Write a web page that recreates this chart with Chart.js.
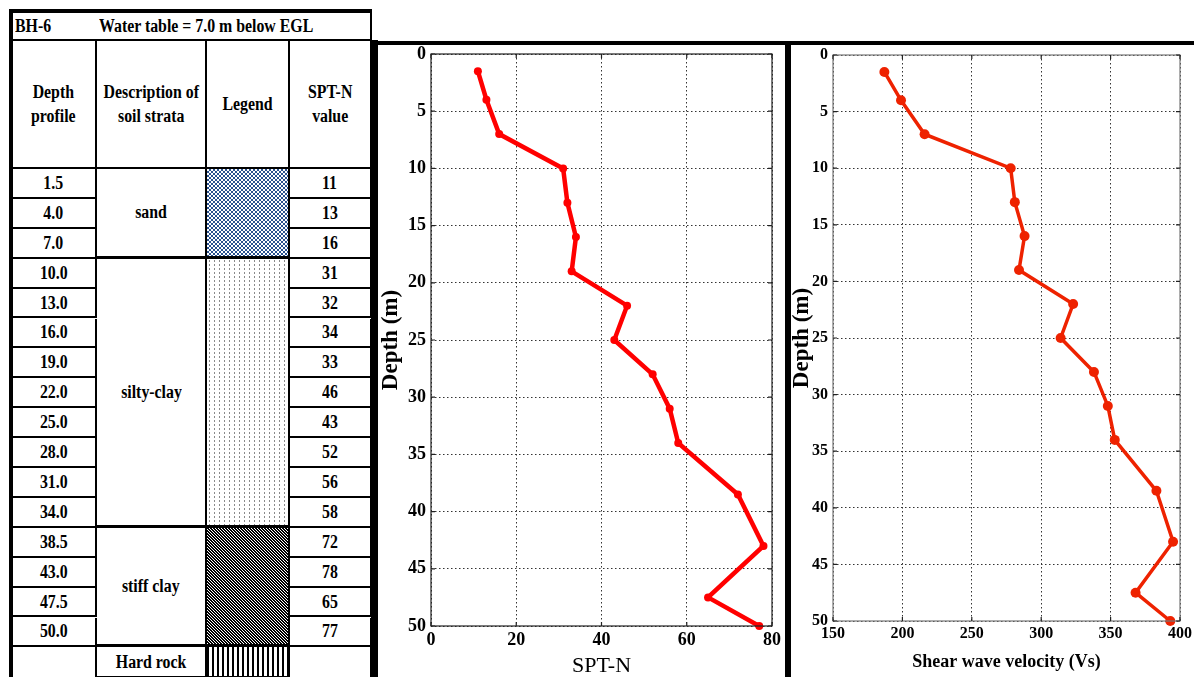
<!DOCTYPE html>
<html lang="en">
<head>
  <meta charset="UTF-8">
  <title>BH-6 borehole log, SPT-N and shear wave velocity</title>
  <script src="https://cdn.jsdelivr.net/npm/chart.js@4"></script>
  <style>
    * { margin: 0; padding: 0; box-sizing: border-box; }
    body { width: 1194px; height: 677px; overflow: hidden; background: #fff; position: relative;
           font-family: 'Liberation Serif', 'Times New Roman', serif; font-weight: bold; color: #000; }
    .cell { position: absolute; border-right: 2px solid #000; border-bottom: 2px solid #000;
            display: flex; align-items: center; justify-content: center; text-align: center; font-size: 18px; line-height: 24px; }
    .cell span { display: inline-block; transform: scaleX(0.88); white-space: nowrap; }
    .bar { position: absolute; background: #000; }
    .sand { background: repeating-conic-gradient(#2a528f 0 25%, #fff 0 50%) 0 0 / 4px 4px; }
    .silt { background-image: radial-gradient(circle, #8a8a8a 0.7px, transparent 0.9px); background-size: 5px 4px; }
    .stiff { background: linear-gradient(45deg, #000 25%, #fff 25%, #fff 50%, #000 50%, #000 75%, #fff 75%) 0 0 / 3px 3px; }
    .rock { background: repeating-linear-gradient(90deg, #000 0 2px, #fff 2px 5px); }
    canvas { position: absolute; }
  </style>
</head>
<body>
  <div id="log"></div>
  <canvas id="sptChart" width="408" height="632" style="left:378px; top:45px;"></canvas>
  <canvas id="vsChart" width="403" height="632" style="left:791px; top:45px;"></canvas>

  <script>
    // borehole BH-6 test depths (m) and readings
    const depths = [1.5, 4.0, 7.0, 10.0, 13.0, 16.0, 19.0, 22.0, 25.0, 28.0, 31.0, 34.0, 38.5, 43.0, 47.5, 50.0];
    const sptN = [11, 13, 16, 31, 32, 34, 33, 46, 43, 52, 56, 58, 72, 78, 65, 77];
    const shearVs = [187, 199, 216, 278, 281, 288, 284, 323, 314, 338, 348, 353, 383, 395, 368, 393];

    // soil strata: name, number of test rows, legend pattern
    const strataNames = ['sand', 'silty-clay', 'stiff clay', 'Hard rock'];
    const strataRows = [3, 9, 4, 1];
    const strataPattern = ['sand', 'silt', 'stiff', 'rock'];

    const depthTicks = [0, 5, 10, 15, 20, 25, 30, 35, 40, 45, 50];

    // ---- left table (log) ----
    const log = document.getElementById('log');
    const colX = [12, 97, 207, 290, 372];
    const rowTop = 169, rowH = 29.9;

    function cell(x, y, w, h, html, cls, extra) {
      const d = document.createElement('div');
      d.className = 'cell' + (cls ? ' ' + cls : '');
      d.style.left = x + 'px'; d.style.top = y + 'px';
      d.style.width = w + 'px'; d.style.height = h + 'px';
      if (extra) Object.assign(d.style, extra);
      if (html) d.innerHTML = '<span>' + html + '</span>';
      log.appendChild(d);
      return d;
    }

    // title row
    const t = cell(colX[0], 9, colX[4] - colX[0], 32, '', '', { borderTop: '4px solid #000' });
    t.innerHTML = '<span style="position:absolute;left:3px;transform-origin:left">BH-6</span>' +
                  '<span style="position:absolute;left:87px;transform-origin:left">Water table = 7.0 m below EGL</span>';

    // column headers
    const heads = ['Depth<br>profile', 'Description of<br>soil strata', 'Legend', 'SPT-N<br>value'];
    heads.forEach((h, i) => cell(colX[i], 41, colX[i + 1] - colX[i], rowTop - 41, h));

    // depth + SPT rows
    depths.forEach((d, i) => {
      const y = rowTop + i * rowH;
      cell(colX[0], y, colX[1] - colX[0], rowH, d.toFixed(1));
      cell(colX[3], y, colX[4] - colX[3], rowH, String(sptN[i]));
    });
    const lastY = rowTop + depths.length * rowH;
    cell(colX[0], lastY, colX[1] - colX[0], 677 - lastY + 2, '');
    cell(colX[3], lastY, colX[4] - colX[3], 677 - lastY + 2, '');

    // strata + legend merged cells
    let r = 0;
    strataNames.forEach((name, i) => {
      const y = rowTop + r * rowH;
      const h = i === strataNames.length - 1 ? 677 - y + 2 : strataRows[i] * rowH;
      cell(colX[1], y, colX[2] - colX[1], h, name, '', { borderBottomWidth: '3px' });
      cell(colX[2], y, colX[3] - colX[2], h, '', strataPattern[i], { borderBottomWidth: '3px' });
      r += strataRows[i];
    });

    // heavy frame lines
    const bars = [
      [9, 9, 4, 668],      // table left edge
      [371, 40, 7, 637],   // table right / panel left
      [375, 41, 819, 4],   // panel top
      [785, 41, 6, 636]    // panel divider
    ];
    bars.forEach(b => {
      const d = document.createElement('div');
      d.className = 'bar';
      Object.assign(d.style, { left: b[0] + 'px', top: b[1] + 'px', width: b[2] + 'px', height: b[3] + 'px' });
      log.appendChild(d);
    });

    // ---- charts ----
    const serif = "'Liberation Serif', 'Times New Roman', serif";

    // plot frame + inward tick marks, matlab style
    const framePlugin = {
      id: 'frame',
      afterDraw(chart, args, o) {
        const { ctx, chartArea: a, scales } = chart;
        ctx.save();
        ctx.strokeStyle = o.color; ctx.lineWidth = 1.2;
        ctx.strokeRect(a.left, a.top, a.right - a.left, a.bottom - a.top);
        ctx.strokeStyle = '#222';
        scales.y.ticks.forEach(tk => {
          const py = scales.y.getPixelForValue(tk.value);
          ctx.beginPath();
          ctx.moveTo(a.left, py); ctx.lineTo(a.left + 4, py);
          ctx.moveTo(a.right, py); ctx.lineTo(a.right - 4, py);
          ctx.stroke();
        });
        scales.x.ticks.forEach(tk => {
          const px = scales.x.getPixelForValue(tk.value);
          ctx.beginPath();
          ctx.moveTo(px, a.bottom); ctx.lineTo(px, a.bottom - 4);
          ctx.moveTo(px, a.top); ctx.lineTo(px, a.top + 4);
          ctx.stroke();
        });
        ctx.restore();
      }
    };

    function depthChart(id, xs, cfg) {
      return new Chart(document.getElementById(id), {
        type: 'line',
        data: {
          datasets: [{
            data: depths.map((d, i) => ({ x: xs[i], y: d })),
            borderColor: cfg.color, backgroundColor: cfg.color,
            borderWidth: cfg.lineWidth, pointRadius: cfg.pointRadius,
            pointBorderWidth: 0, tension: 0, clip: false
          }]
        },
        options: {
          responsive: false, animation: false,
          layout: { padding: cfg.padding },
          plugins: { legend: { display: false }, tooltip: { enabled: false }, frame: { color: cfg.frameColor } },
          scales: {
            x: {
              type: 'linear', min: cfg.xMin, max: cfg.xMax,
              afterBuildTicks: s => { s.ticks = cfg.xTicks.map(v => ({ value: v })); },
              ticks: { color: '#000', padding: cfg.xTickPad, maxRotation: 0, font: { family: serif, size: cfg.tickSize, weight: 'bold' } },
              grid: { color: '#333', lineWidth: 1, drawTicks: false },
              border: { display: false, dash: [1.5, 2.5] },
              title: { display: true, text: cfg.xTitle, color: '#000', padding: { top: 0, bottom: cfg.xTitlePad },
                       font: { family: serif, size: cfg.xTitleSize, weight: cfg.xTitleWeight, lineHeight: cfg.xTitleLH } },
              afterFit: s => { s.height = cfg.xAxisH; s.paddingLeft = 0; s.paddingRight = 0; }
            },
            y: {
              type: 'linear', reverse: true, min: 0, max: 50,
              afterBuildTicks: s => { s.ticks = depthTicks.map(v => ({ value: v })); },
              ticks: { color: '#000', padding: 5, font: { family: serif, size: cfg.tickSize, weight: 'bold' } },
              grid: { color: '#333', lineWidth: 1, drawTicks: false },
              border: { display: false, dash: [1.5, 2.5] },
              title: { display: true, text: 'Depth (m)', color: '#000', padding: 0,
                       font: { family: serif, size: 23, weight: 'bold', lineHeight: 1 } },
              afterFit: s => { s.width = cfg.yAxisW; s.paddingTop = 0; s.paddingBottom = 0; }
            }
          }
        },
        plugins: [framePlugin]
      });
    }

    depthChart('sptChart', sptN, {
      color: '#ff0000', lineWidth: 4.5, pointRadius: 4,
      xMin: 0, xMax: 80, xTicks: [0, 20, 40, 60, 80],
      xTitle: 'SPT-N', xTitleSize: 22, xTitleWeight: 'normal', xTitlePad: 0, xTitleLH: 1,
      tickSize: 18, xTickPad: 4, xAxisH: 51, yAxisW: 51,
      frameColor: '#222',
      padding: { left: 2, top: 9, right: 14, bottom: 0 }
    });

    depthChart('vsChart', shearVs, {
      color: '#ee2200', lineWidth: 3.5, pointRadius: 5,
      xMin: 150, xMax: 400, xTicks: [150, 200, 250, 300, 350, 400],
      xTitle: 'Shear wave velocity (Vs)', xTitleSize: 18, xTitleWeight: 'bold', xTitlePad: 4, xTitleLH: 1.2,
      tickSize: 16, xTickPad: 3, xAxisH: 56, yAxisW: 42,
      frameColor: '#777',
      padding: { left: 0, top: 10, right: 14, bottom: 0 }
    });
  </script>
</body>
</html>
